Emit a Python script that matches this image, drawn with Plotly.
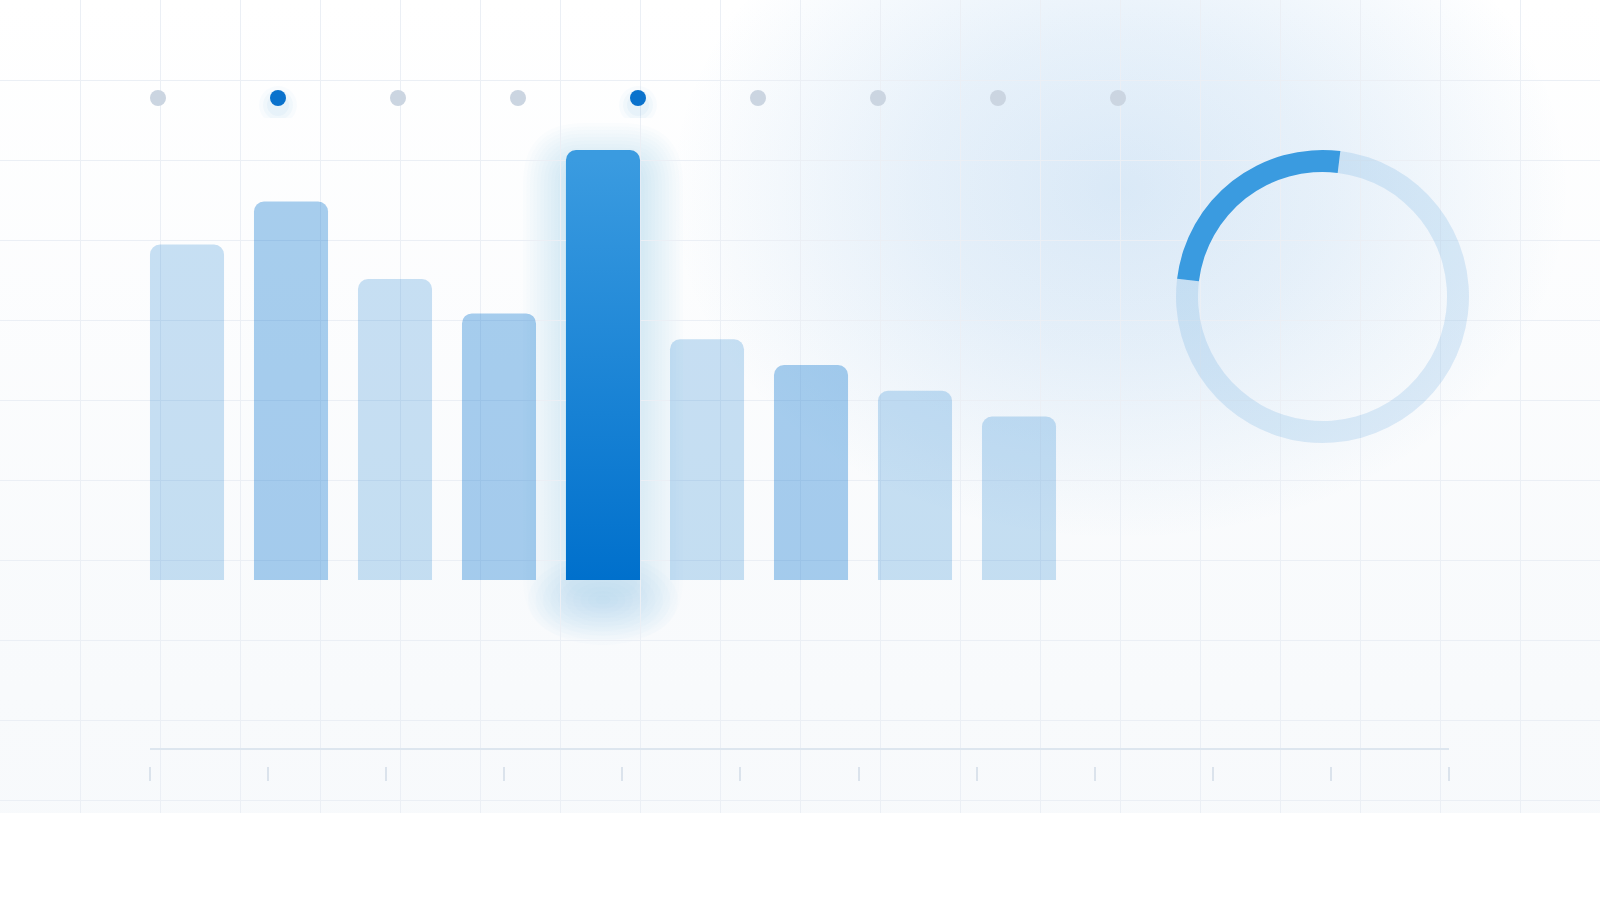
import plotly.graph_objects as go

W, H = 1600, 813

# data
bar_names = ["P1", "P2", "P3", "P4", "P5", "P6", "P7", "P8", "P9"]
bar_values = [78, 88, 70, 62, 100, 56, 50, 44, 38]
bar_tone = ["light", "medium", "light", "medium", "focus", "light", "medium", "light", "light"]
step_names = ["S1", "S2", "S3", "S4", "S5", "S6", "S7", "S8", "S9"]
step_active = [False, True, False, False, True, False, False, False, False]
progress_values = [25, 75]
timeline_ticks = list(range(12))

# colours
GRID = "#ebeff5"
FOCUS_TOP = "#3a9be0"
FOCUS_BOTTOM = "#0070cc"
TONES = {
    "light": "rgba(0,112,204,0.21)",
    "medium": "rgba(0,112,204,0.34)",
    "focus": FOCUS_TOP,
}

# pixel boxes of the panels (x left->right, y top->bottom)
BAR_BOX = (135, 1071, 150, 580)      # x0, x1, y(top of 100), y(baseline)
DOT_BOX = (98, 1178, 78, 118)
TICK_BOX = (150, 1449, 749, 766)
RING_BOX = (1176, 1469, 150, 443)
HAZE = (1120, 190, 450, 350)         # centre x, centre y, radius x, radius y
CORNER = 10
BARGAP = 0.288


def px(x):
    return x / W


def py(y):
    return 1 - y / H


def dom_x(box):
    return [px(box[0]), px(box[1])]


def dom_y(box):
    return [py(box[3]), py(box[2])]


def soft_rect(x0, y0, x1, y1, r):
    # rounded rectangle in pixel space -> paper path
    r = max(min(r, (x1 - x0) / 2, (y1 - y0) / 2), 0)
    p = lambda x, y: f"{px(x):.5f},{py(y):.5f}"
    return (f"M {p(x0 + r, y0)} L {p(x1 - r, y0)} Q {p(x1, y0)} {p(x1, y0 + r)} "
            f"L {p(x1, y1 - r)} Q {p(x1, y1)} {p(x1 - r, y1)} "
            f"L {p(x0 + r, y1)} Q {p(x0, y1)} {p(x0, y1 - r)} "
            f"L {p(x0, y0 + r)} Q {p(x0, y0)} {p(x0 + r, y0)} Z")


n_bars = len(bar_values)
pitch = (BAR_BOX[1] - BAR_BOX[0]) / n_bars
unit = (BAR_BOX[3] - BAR_BOX[2]) / 100
half_w = (1 - BARGAP) / 2
focus = bar_tone.index("focus")

shapes = []

# glow round the focus bar
fx = BAR_BOX[0] + (focus + 0.5) * pitch
fw = pitch * half_w
ftop = BAR_BOX[3] - bar_values[focus] * unit
for k in range(1, 15):
    pad = 3.5 * k - 6
    shapes.append(dict(type="path", xref="paper", yref="paper", layer="below",
                       path=soft_rect(fx - fw - pad, ftop + 16 - pad,
                                      fx + fw + pad, BAR_BOX[3] + 16 + pad, pad + 18),
                       fillcolor=FOCUS_BOTTOM, opacity=0.016, line_width=0))
for k in range(10):
    s = 1 - k / 10
    shapes.append(dict(type="circle", xref="paper", yref="paper", layer="below",
                       x0=px(fx - 75 * s), x1=px(fx + 75 * s),
                       y0=py(BAR_BOX[3] + 20 + 45 * s), y1=py(BAR_BOX[3] + 20 - 45 * s),
                       fillcolor=FOCUS_BOTTOM, opacity=0.022, line_width=0))

# baseline of the timeline
shapes.append(dict(type="line", xref="x5", yref="paper",
                   x0=timeline_ticks[0], x1=timeline_ticks[-1],
                   y0=py(TICK_BOX[2]), y1=py(TICK_BOX[2]),
                   line=dict(color="#dde6ef", width=2)))

fig = go.Figure()

# background panel: vertical wash + blue haze
fig.add_trace(go.Scatter(
    x=[0, W, W, 0], y=[0, 0, H, H], xaxis="x", yaxis="y",
    mode="lines", fill="toself", line=dict(width=0, color="rgba(0,0,0,0)"),
    fillgradient=dict(type="vertical", colorscale=[
        [0, "rgba(241,245,249,0.55)"], [0.3, "rgba(241,245,249,0.45)"],
        [1, "rgba(241,245,249,0)"]]),
    hoverinfo="skip", showlegend=False,
))
hx, hy, hrx, hry = HAZE
fig.add_trace(go.Scatter(
    x=[hx - hrx, hx + hrx, hx + hrx, hx - hrx], y=[hy - hry, hy - hry, hy + hry, hy + hry],
    xaxis="x", yaxis="y", mode="lines", fill="toself",
    line=dict(width=0, color="rgba(0,0,0,0)"),
    fillgradient=dict(type="radial", colorscale=[
        [0, "rgba(45,132,212,0.17)"], [0.45, "rgba(45,132,212,0.11)"],
        [1, "rgba(45,132,212,0)"]]),
    hoverinfo="skip", showlegend=False,
))

# grid panel
fig.add_trace(go.Scatter(x=[None], y=[None], xaxis="x2", yaxis="y2",
                         hoverinfo="skip", showlegend=False))

# bars
xs = list(range(n_bars))
fig.add_trace(go.Bar(
    x=xs, y=bar_values, xaxis="x3", yaxis="y3",
    marker=dict(color=[TONES[t] for t in bar_tone], line_width=0),
    hovertext=bar_names, hoverinfo="text+y", showlegend=False,
))
# gradient body of the focus bar
r_data = CORNER / unit
fig.add_trace(go.Scatter(
    x=[focus - half_w, focus + half_w, focus + half_w, focus - half_w],
    y=[0, 0, bar_values[focus] - r_data, bar_values[focus] - r_data],
    xaxis="x3", yaxis="y3", mode="lines", fill="toself",
    line=dict(width=0, color=FOCUS_TOP),
    fillgradient=dict(type="vertical",
                      colorscale=[[0, FOCUS_BOTTOM], [1, FOCUS_TOP]]),
    hoverinfo="skip", showlegend=False,
))

# step dots
active_x = [i for i, a in enumerate(step_active) if a]
for size, op in [(38, 0.025), (30, 0.03), (22, 0.035)]:
    fig.add_trace(go.Scatter(
        x=active_x, y=[-0.35] * len(active_x), xaxis="x4", yaxis="y4",
        mode="markers", marker=dict(size=size, color=FOCUS_BOTTOM, opacity=op, line_width=0),
        hoverinfo="skip", showlegend=False,
    ))
fig.add_trace(go.Scatter(
    x=list(range(len(step_names))), y=[0] * len(step_names), xaxis="x4", yaxis="y4",
    mode="markers",
    marker=dict(size=16, color=["#0a72cc" if a else "#cbd5e1" for a in step_active], line_width=0),
    hovertext=step_names, hoverinfo="text", showlegend=False,
))

# timeline ticks
fig.add_trace(go.Scatter(x=timeline_ticks, y=[None] * len(timeline_ticks),
                         xaxis="x5", yaxis="y5", hoverinfo="skip", showlegend=False))

# progress ring
fig.add_trace(go.Pie(
    values=progress_values, hole=0.85, sort=False, direction="counterclockwise",
    rotation=-83, textinfo="none", hoverinfo="percent",
    marker=dict(colors=[FOCUS_TOP, "rgba(0,112,204,0.12)"], line=dict(width=0)),
    domain=dict(x=dom_x(RING_BOX), y=dom_y(RING_BOX)), showlegend=False,
))

hidden = dict(visible=False, fixedrange=True)
fig.update_layout(
    width=W, height=H,
    margin=dict(l=0, r=0, t=0, b=0, pad=0),
    paper_bgcolor="#ffffff",
    plot_bgcolor="rgba(0,0,0,0)",
    barcornerradius=CORNER,
    bargap=BARGAP,
    shapes=shapes,
    xaxis=dict(domain=[0, 1], range=[0, W], anchor="y", **hidden),
    yaxis=dict(domain=[0, 1], range=[H, 0], anchor="x", **hidden),
    xaxis2=dict(domain=[0, 1], range=[-0.5, W - 0.5], dtick=80, tick0=0, showgrid=True,
                gridcolor=GRID, gridwidth=1, zeroline=False, showticklabels=False,
                ticks="", anchor="y2", fixedrange=True),
    yaxis2=dict(domain=[0, 1], range=[H - 0.5, -0.5], dtick=80, tick0=0, showgrid=True,
                gridcolor=GRID, gridwidth=1, zeroline=False, showticklabels=False,
                ticks="", anchor="x2", fixedrange=True),
    xaxis3=dict(domain=dom_x(BAR_BOX), range=[-0.5, n_bars - 0.5], anchor="y3", **hidden),
    yaxis3=dict(domain=dom_y(BAR_BOX), range=[0, 100], anchor="x3", **hidden),
    xaxis4=dict(domain=dom_x(DOT_BOX), range=[-0.5, len(step_names) - 0.5], anchor="y4", **hidden),
    yaxis4=dict(domain=dom_y(DOT_BOX), range=[-1, 1], anchor="x4", **hidden),
    xaxis5=dict(domain=dom_x(TICK_BOX), range=[timeline_ticks[0], timeline_ticks[-1]],
                anchor="y5", tickmode="array", tickvals=timeline_ticks,
                ticks="outside", ticklen=14, tickwidth=2, tickcolor="#dbe3ec",
                showticklabels=False, showgrid=False, zeroline=False, showline=False,
                fixedrange=True),
    yaxis5=dict(domain=dom_y(TICK_BOX), range=[0, 1], anchor="x5", **hidden),
    hovermode="closest",
)

fig.write_html("out.html", config={"displayModeBar": False},
               post_script="document.body.style.margin='0';")
